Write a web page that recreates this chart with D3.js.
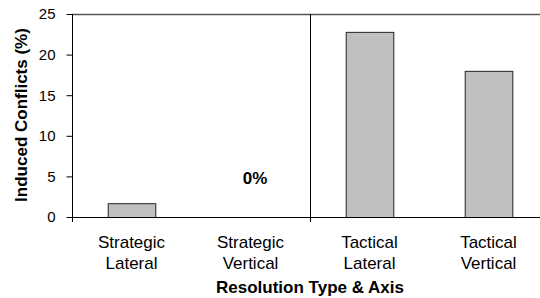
<!DOCTYPE html>
<html lang="en">
<head>
<meta charset="UTF-8">
<title>Induced Conflicts</title>
<script src="https://d3js.org/d3.v7.min.js"></script>
<style>
  body { margin: 0; background: #fff; }
  svg text { font-family: Arial, "Liberation Sans", sans-serif; fill: #000; }
</style>
</head>
<body>
<div id="chart"></div>
<script>
// data
const categories = ["Strategic Lateral", "Strategic Vertical", "Tactical Lateral", "Tactical Vertical"];
const conflicts = [1.7, 0, 22.8, 18.0];
const yTicks = [0, 5, 10, 15, 20, 25];

const width = 540, height = 298;
const plotLeft = 72, plotTop = 14, plotBottom = 217;
const plotRight = 548; // the plot runs past the window edge

const svg = d3.select("#chart").append("svg")
  .attr("width", width).attr("height", height);

const x = d3.scaleBand().domain(categories).range([plotLeft, plotRight]).paddingInner(0.6).paddingOuter(0.3);
const xb = d3.scaleBand().domain(categories).range([plotLeft, plotRight]);
const y = d3.scaleLinear().domain([0, 25]).range([plotBottom, plotTop]);

// top border
svg.append("line")
  .attr("x1", plotLeft).attr("x2", width)
  .attr("y1", plotTop + 0.5).attr("y2", plotTop + 0.5)
  .attr("stroke", "#555").attr("stroke-width", 1.5);

// divider between strategic and tactical
svg.append("line")
  .attr("x1", xb("Tactical Lateral") + 0.5).attr("x2", xb("Tactical Lateral") + 0.5)
  .attr("y1", plotTop).attr("y2", plotBottom + 5)
  .attr("stroke", "#000");

// bars
svg.selectAll(".bar")
  .data(categories.filter((c, i) => conflicts[i] > 0))
  .enter().append("rect")
  .attr("class", "bar")
  .attr("x", d => x(d) + 0.5)
  .attr("y", d => y(conflicts[categories.indexOf(d)]) + 0.5)
  .attr("width", x.bandwidth())
  .attr("height", d => plotBottom - y(conflicts[categories.indexOf(d)]))
  .attr("fill", "#c0c0c0")
  .attr("stroke", "#222")
  .attr("stroke-width", 1);

// y axis
const yAxis = svg.append("g")
  .attr("transform", `translate(${plotLeft + 0.5},0)`)
  .call(d3.axisLeft(y).tickValues(yTicks).tickSize(6).tickPadding(11));
yAxis.select(".domain").attr("d", `M0,${plotTop}V${plotBottom + 5}`).attr("stroke", "#000");
yAxis.selectAll("text").attr("font-size", "15px").attr("font-family", "Arial, sans-serif");

// x axis line
svg.append("line")
  .attr("x1", plotLeft).attr("x2", width)
  .attr("y1", plotBottom + 0.5).attr("y2", plotBottom + 0.5)
  .attr("stroke", "#000");

// category labels (two lines)
categories.forEach(c => {
  const parts = c.split(" ");
  const t = svg.append("text")
    .attr("text-anchor", "middle")
    .attr("font-size", "17px")
    .attr("x", xb(c) + xb.bandwidth() / 2);
  parts.forEach((p, i) => {
    t.append("tspan")
      .attr("x", xb(c) + xb.bandwidth() / 2)
      .attr("y", 248 + i * 21)
      .text(p);
  });
});

// 0% label
svg.append("text")
  .attr("x", 255).attr("y", 184)
  .attr("text-anchor", "middle")
  .attr("font-size", "17px").attr("font-weight", "bold")
  .text("0%");

// axis titles
svg.append("text")
  .attr("x", (plotLeft + plotRight) / 2).attr("y", 293)
  .attr("text-anchor", "middle")
  .attr("font-size", "17px").attr("font-weight", "bold")
  .text("Resolution Type & Axis");

svg.append("text")
  .attr("transform", "translate(27,115) rotate(-90)")
  .attr("text-anchor", "middle")
  .attr("font-size", "17px").attr("font-weight", "bold")
  .text("Induced Conflicts (%)");
</script>
</body>
</html>
